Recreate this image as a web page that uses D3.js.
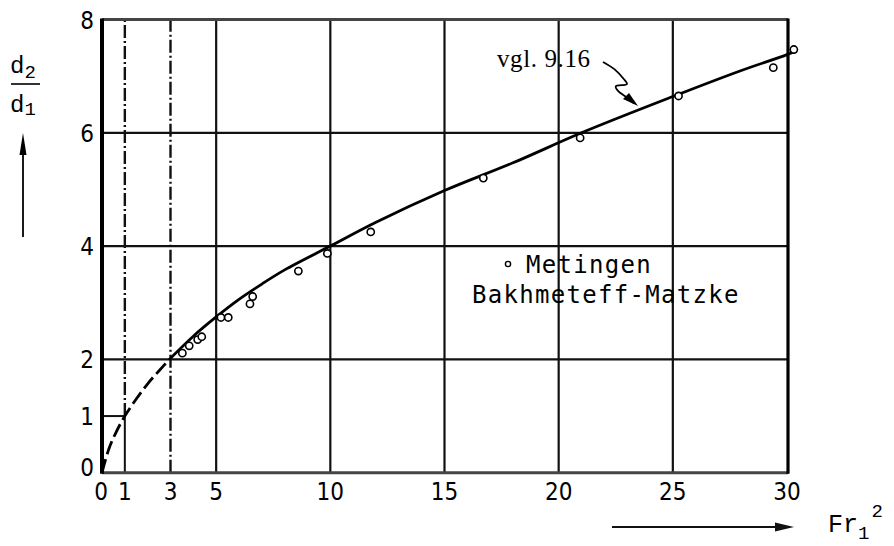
<!DOCTYPE html>
<html>
<head>
<meta charset="utf-8">
<script src="https://cdn.jsdelivr.net/npm/d3@7"></script>
<style>
  html, body { margin: 0; padding: 0; background: #fff; }
  svg { display: block; }
</style>
</head>
<body>
<svg id="chart" width="894" height="546"></svg>
<script>
// Froude number squared (x) and conjugate depth ratio d2/d1 (y)
const curveX = [0, 0.3, 0.6, 1, 1.5, 2, 2.5, 3, 4, 5, 6, 7, 8, 10, 12, 15, 18, 21, 25, 28, 30, 30.4];
const curveY = [0, 0.42, 0.7, 1, 1.3, 1.57, 1.8, 2.02, 2.41, 2.75, 3.06, 3.33, 3.58, 4.0, 4.42, 4.98, 5.47, 6.0, 6.64, 7.1, 7.38, 7.45];
const dashedUpTo = 3;

// measurements (Bakhmeteff-Matzke)
const measX = [3.52, 3.82, 4.19, 4.37, 5.21, 5.53, 6.48, 6.6, 8.6, 9.87, 11.77, 16.7, 20.94, 25.25, 29.4, 30.3];
const measY = [2.11, 2.24, 2.35, 2.40, 2.74, 2.74, 2.98, 3.11, 3.56, 3.87, 4.25, 5.20, 5.91, 6.65, 7.15, 7.47];

const xTicks = [0, 1, 3, 5, 10, 15, 20, 25, 30];
const yTicks = [0, 1, 2, 4, 6, 8];
const xGridSolid = [5, 10, 15, 20, 25];
const xGridDashDot = [1, 3];
const yGrid = [2, 4, 6];

const svg = d3.select("#chart");
const x = d3.scaleLinear().domain([0, 30]).range([102, 787]);
const y = d3.scaleLinear().domain([0, 8]).range([472.7, 19.5]);

const tickFont = "'DejaVu Sans Condensed', 'DejaVu Sans', sans-serif";
const monoFont = "'Liberation Mono', 'DejaVu Sans Mono', monospace";
const serifFont = "'Liberation Serif', 'DejaVu Serif', serif";

// grid
const grid = svg.append("g").attr("stroke", "#111").attr("fill", "none");
grid.selectAll("line.h").data(yGrid).join("line")
  .attr("x1", x(0)).attr("x2", x(30) + 1)
  .attr("y1", d => y(d)).attr("y2", d => y(d))
  .attr("stroke-width", 2.2);
grid.selectAll("line.v").data(xGridSolid).join("line")
  .attr("x1", d => x(d)).attr("x2", d => x(d))
  .attr("y1", y(0)).attr("y2", y(8))
  .attr("stroke-width", 2.2);
grid.selectAll("line.vd").data(xGridDashDot).join("line")
  .attr("x1", d => x(d)).attr("x2", d => x(d))
  .attr("y1", d => d === 1 ? y(1) : y(0)).attr("y2", y(8))
  .attr("stroke-width", 2.4)
  .attr("stroke-dasharray", "13,3,2,3");
// small box up to (1, 1)
grid.append("line").attr("x1", x(0)).attr("x2", x(1)).attr("y1", y(1)).attr("y2", y(1)).attr("stroke-width", 2);
grid.append("line").attr("x1", x(1)).attr("x2", x(1)).attr("y1", y(0)).attr("y2", y(1)).attr("stroke-width", 2);

// frame
svg.append("line").attr("x1", x(0)).attr("x2", x(30) + 1).attr("y1", y(8)).attr("y2", y(8))
  .attr("stroke", "#444").attr("stroke-width", 3);
svg.append("line").attr("x1", x(0)).attr("x2", x(30) + 1).attr("y1", y(0)).attr("y2", y(0))
  .attr("stroke", "#444").attr("stroke-width", 3);
svg.append("line").attr("x1", x(0)).attr("x2", x(0)).attr("y1", y(8) - 1).attr("y2", y(0) + 1)
  .attr("stroke", "#000").attr("stroke-width", 4);
svg.append("line").attr("x1", x(30) + 1).attr("x2", x(30) + 1).attr("y1", y(8) - 1).attr("y2", y(0) + 1)
  .attr("stroke", "#000").attr("stroke-width", 3.2);

// curve
const pts = curveX.map((v, i) => [v, curveY[i]]);
const line = d3.line().x(d => x(d[0])).y(d => y(d[1])).curve(d3.curveCatmullRom.alpha(0.5));
svg.append("path").datum(pts.filter(p => p[0] <= dashedUpTo))
  .attr("d", line).attr("fill", "none").attr("stroke", "#000")
  .attr("stroke-width", 2.8).attr("stroke-dasharray", "14,5");
svg.append("path").datum(pts.filter(p => p[0] >= dashedUpTo))
  .attr("d", line).attr("fill", "none").attr("stroke", "#000")
  .attr("stroke-width", 2.8);

// measured points
svg.append("g").selectAll("circle").data(measX.map((v, i) => [v, measY[i]])).join("circle")
  .attr("cx", d => x(d[0])).attr("cy", d => y(d[1])).attr("r", 3.6)
  .attr("fill", "#fff").attr("stroke", "#000").attr("stroke-width", 1.6);

// tick labels
svg.append("g").selectAll("text").data(xTicks).join("text")
  .attr("x", d => x(d) + (d === 0 ? -1 : 0)).attr("y", 500)
  .attr("text-anchor", "middle")
  .attr("font-family", tickFont).attr("font-size", 24)
  .text(d => d);
svg.append("g").selectAll("text").data(yTicks).join("text")
  .attr("x", 94).attr("y", d => y(d) + (d === 0 ? 3 : 9))
  .attr("text-anchor", "end")
  .attr("font-family", tickFont).attr("font-size", 24)
  .text(d => d);

// y axis label d2/d1 with arrow
const yl = svg.append("g").attr("font-family", monoFont).attr("fill", "#000");
yl.append("text").attr("x", 10).attr("y", 73).attr("font-size", 24).text("d")
  .append("tspan").attr("dy", 5).attr("font-size", 19).text("2");
yl.append("line").attr("x1", 11).attr("x2", 40).attr("y1", 84).attr("y2", 84)
  .attr("stroke", "#000").attr("stroke-width", 1.6);
yl.append("text").attr("x", 10).attr("y", 112).attr("font-size", 24).text("d")
  .append("tspan").attr("dy", 3).attr("font-size", 19).text("1");
yl.append("line").attr("x1", 23).attr("x2", 23).attr("y1", 237).attr("y2", 150)
  .attr("stroke", "#000").attr("stroke-width", 1.8);
yl.append("path").attr("d", "M23,133 L19.5,155 L26.5,155 Z").attr("fill", "#000");

// x axis label with arrow
svg.append("line").attr("x1", 612).attr("x2", 780).attr("y1", 527).attr("y2", 527)
  .attr("stroke", "#111").attr("stroke-width", 1.8);
svg.append("path").attr("d", "M794,527 L775,522.5 L775,531.5 Z").attr("fill", "#111");
const fr = svg.append("text").attr("x", 828).attr("y", 532)
  .attr("font-family", monoFont).attr("font-size", 25).attr("fill", "#000");
fr.append("tspan").text("Fr");
fr.append("tspan").attr("dy", 7).attr("font-size", 19).text("1");
fr.append("tspan").attr("dx", 2).attr("dy", -22).attr("font-size", 19).text("2");

// equation reference with wavy pointer
svg.append("text").attr("x", x(17.3)).attr("y", y(7.17))
  .attr("font-family", serifFont).attr("font-size", 25).attr("letter-spacing", 0.6)
  .attr("fill", "#000").text("vgl. 9.16");
const pointer = [[21.94, 7.25], [22.45, 7.12], [22.85, 6.95], [22.99, 6.86], [22.5, 6.82], [22.6, 6.74], [23.0, 6.62], [23.3, 6.52]];
svg.append("path")
  .attr("d", d3.line().x(d => x(d[0])).y(d => y(d[1])).curve(d3.curveCatmullRom.alpha(0.5))(pointer))
  .attr("fill", "none").attr("stroke", "#000").attr("stroke-width", 1.8);
svg.append("path").attr("d", "M638,106 L623,99 L629,93 Z").attr("fill", "#000");

// legend
const lg = svg.append("g").attr("font-family", "'DejaVu Sans Mono', monospace")
  .attr("font-size", 24).attr("letter-spacing", 1.3).attr("fill", "#000");
lg.append("circle").attr("cx", 508).attr("cy", 264).attr("r", 2.6)
  .attr("fill", "#fff").attr("stroke", "#000").attr("stroke-width", 1.4);
lg.append("text").attr("x", 526).attr("y", 273).text("Metingen");
lg.append("text").attr("x", 472).attr("y", 303).text("Bakhmeteff-Matzke");
</script>
</body>
</html>
